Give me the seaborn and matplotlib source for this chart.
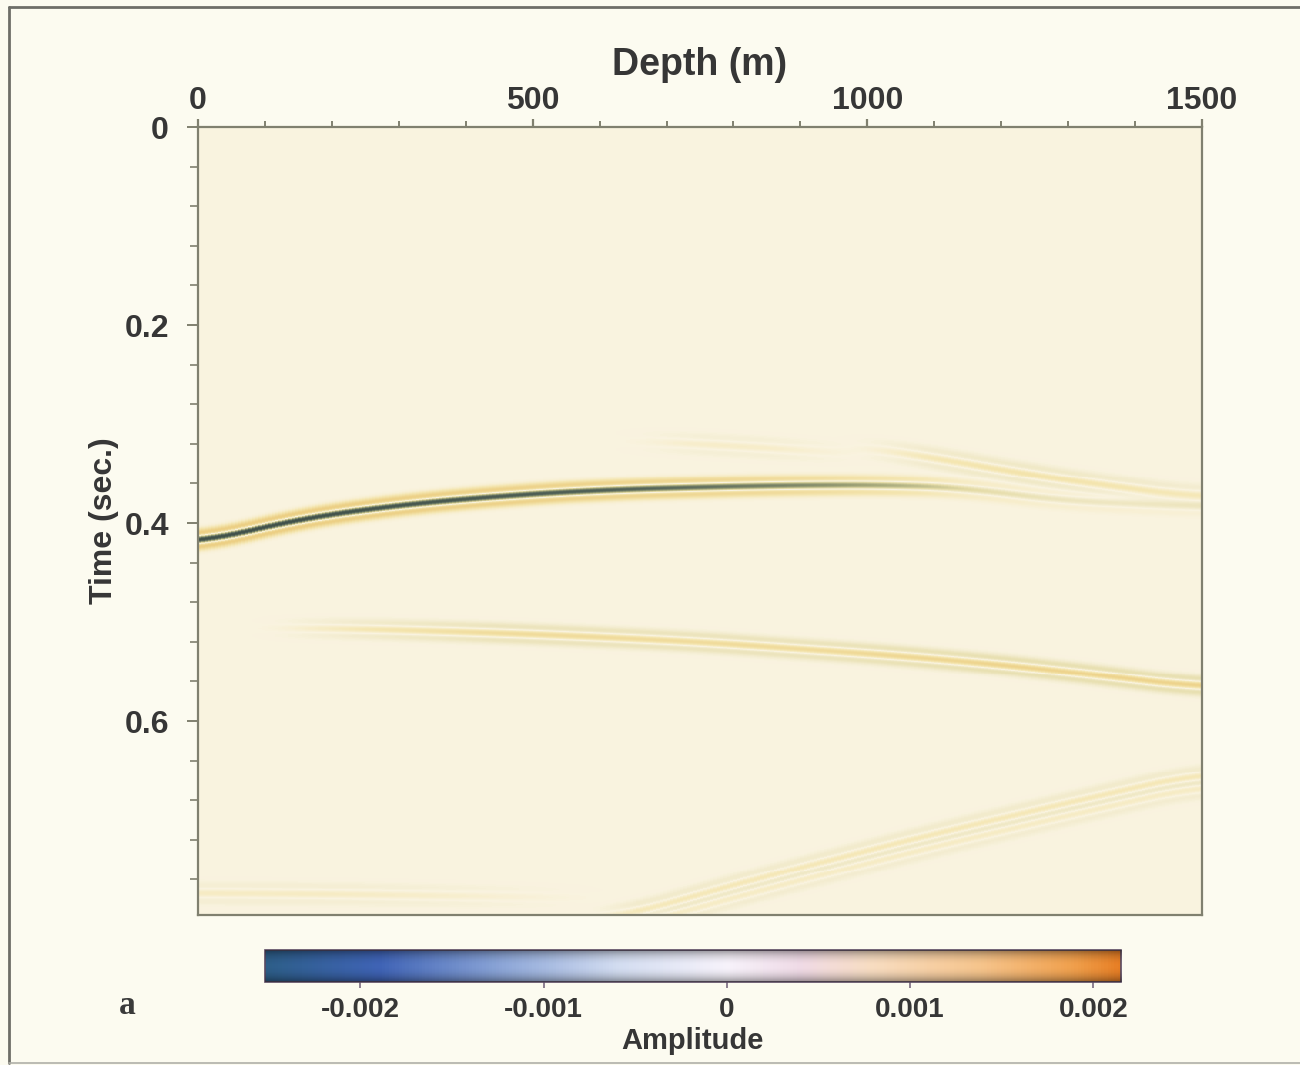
import numpy as np
import pandas as pd
import matplotlib
matplotlib.use("Agg")
import matplotlib.pyplot as plt
import seaborn as sns
from matplotlib.colors import LinearSegmentedColormap, Normalize
from matplotlib.cm import ScalarMappable
from matplotlib.lines import Line2D

# ---- axis ranges and ticks ----
depth_max = 1500.0
time_max = 0.796
depth_ticks = [0, 500, 1000, 1500]
time_ticks = [0.0, 0.2, 0.4, 0.6]
time_tick_labels = ["0", "0.2", "0.4", "0.6"]
amp_ticks = [-0.002, -0.001, 0.0, 0.001, 0.002]
amp_tick_labels = ["-0.002", "-0.001", "0", "0.001", "0.002"]
amp_min, amp_max = -0.00252, 0.00215

# ---- reflection events: picks along each event (depth m, time s, amplitude) ----
main_depth = [0, 150, 300, 450, 600, 750, 900, 1050, 1150, 1280, 1500]
main_time = [0.420, 0.396, 0.382, 0.373, 0.367, 0.364, 0.362, 0.362, 0.365, 0.377, 0.384]
main_amp = [-0.0023, -0.0023, -0.0022, -0.0021, -0.0020, -0.0018, -0.0015, -0.0010, -0.0005, -0.0003, -0.0002]

upper_depth = [980, 1100, 1250, 1400, 1500]
upper_time = [0.322, 0.334, 0.352, 0.366, 0.374]
upper_amp = [0.0, 0.0004, 0.0005, 0.0004, 0.0003]

shallow_depth = [640, 750, 850, 1000]
shallow_time = [0.317, 0.320, 0.324, 0.330]
shallow_amp = [0.0, 0.0002, 0.0002, 0.0]

second_depth = [100, 250, 450, 600, 750, 900, 1050, 1200, 1350, 1500]
second_time = [0.506, 0.507, 0.511, 0.515, 0.520, 0.527, 0.534, 0.543, 0.554, 0.566]
second_amp = [0.0, 0.0004, 0.0007, 0.0007, 0.0007, 0.0007, 0.0008, 0.0009, 0.0009, 0.0009]

diag_depth = [620, 850, 1083, 1300, 1500]
diag_time = [0.800, 0.757, 0.717, 0.683, 0.653]
diag_amp = [0.0004, 0.0004, 0.0004, 0.0004, 0.0004]

diag2_depth = [650, 850, 1083, 1300, 1500]
diag2_time = [0.806, 0.769, 0.729, 0.695, 0.665]
diag2_amp = [0.0003, 0.0003, 0.0003, 0.0003, 0.0003]

deep_depth = [0, 200, 400, 600]
deep_time = [0.774, 0.775, 0.777, 0.779]
deep_amp = [0.00025, 0.00025, 0.00015, 0.0]

events = [
    (main_depth, main_time, main_amp, 55.0),
    (upper_depth, upper_time, upper_amp, 50.0),
    (shallow_depth, shallow_time, shallow_amp, 50.0),
    (second_depth, second_time, second_amp, 55.0),
    (diag_depth, diag_time, diag_amp, 50.0),
    (diag2_depth, diag2_time, diag2_amp, 50.0),
    (deep_depth, deep_time, deep_amp, 50.0),
]

# ---- build the depth/time amplitude section ----
dx, dt = 5.0, 0.001
depth = np.arange(0, depth_max, dx) + dx / 2
time = np.arange(0, time_max - 1e-9, dt) + dt / 2


def ricker(tau, f):
    a = (np.pi * f * tau) ** 2
    return (1 - 2 * a) * np.exp(-a)


def smooth(y, n=31):
    pad = n // 2
    yp = np.pad(y, pad, mode="edge")
    return np.convolve(yp, np.ones(n) / n, mode="valid")


section = np.zeros((time.size, depth.size))
for d, t, a, f in events:
    tc = smooth(np.interp(depth, d, t))
    amp = smooth(np.interp(depth, d, a, left=0.0, right=0.0), 15)
    section += amp[None, :] * ricker(time[:, None] - tc[None, :], f)

df = pd.DataFrame(section, index=np.round(time, 4), columns=depth)

# ---- colour maps ----
rng = amp_max - amp_min


def stops(pairs):
    return [((v - amp_min) / rng, c) for v, c in pairs]


section_cmap = LinearSegmentedColormap.from_list("section", stops([
    (amp_min, "#34443f"),
    (-0.0019, "#56665a"),
    (-0.0012, "#9ea276"),
    (-0.0005, "#e4dba6"),
    (0.0, "#f9f3e0"),
    (0.0004, "#f4e6b2"),
    (0.0010, "#ecd086"),
    (0.0016, "#e4bb5e"),
    (amp_max, "#dca848"),
]))

bar_cmap = LinearSegmentedColormap.from_list("amplitude", stops([
    (amp_min, "#2d5e88"),
    (-0.0019, "#3f63b5"),
    (-0.0012, "#8fa8d8"),
    (-0.0006, "#d2dcf0"),
    (0.0, "#f6f2fa"),
    (0.0004, "#efdae6"),
    (0.0008, "#f7dcc0"),
    (0.0014, "#f5c38a"),
    (0.0019, "#ef9f4c"),
    (amp_max, "#e67e24"),
]))

# ---- figure ----
sns.set_style("white")
plt.rcParams["font.family"] = ["Liberation Sans", "DejaVu Sans"]
plt.rcParams["axes.unicode_minus"] = False

text_col = "#363636"
axis_col = "#80806f"
fig = plt.figure(figsize=(13, 10.65), dpi=100, facecolor="#fcfbf0")
ax = fig.add_axes([0.1523, 0.1408, 0.7723, 0.7399])

sns.heatmap(df, ax=ax, cmap=section_cmap, vmin=amp_min, vmax=amp_max,
            cbar=False, xticklabels=False, yticklabels=False)

for s in ax.spines.values():
    s.set_visible(True)
    s.set_color(axis_col)
    s.set_linewidth(1.6)

ax.set_xticks(np.array(depth_ticks) / dx)
ax.set_xticklabels([str(v) for v in depth_ticks])
ax.set_xticks(np.arange(0, depth_max + 1, 100) / dx, minor=True)
ax.set_yticks(np.array(time_ticks) / dt)
ax.set_yticklabels(time_tick_labels, rotation=0)
ax.set_yticks(np.arange(0, time_max, 0.04) / dt, minor=True)

ax.tick_params(axis="x", which="both", direction="out", top=True, bottom=False,
               labeltop=True, labelbottom=False, colors=axis_col,
               labelcolor=text_col, labelsize=23)
ax.tick_params(axis="x", which="major", length=6, width=1.6, pad=2)
ax.tick_params(axis="x", which="minor", length=4.5, width=1.4)
ax.tick_params(axis="y", which="both", direction="out", left=True, right=False,
               colors=axis_col, labelcolor=text_col, labelsize=23)
ax.tick_params(axis="y", which="major", length=8, width=1.4, pad=13)
ax.tick_params(axis="y", which="minor", length=6, width=1.2)
for lab in ax.get_xticklabels() + ax.get_yticklabels():
    lab.set_fontweight("bold")

ax.xaxis.set_label_position("top")
ax.set_xlabel("Depth (m)", fontsize=27, fontweight="bold", color=text_col, labelpad=8)
ax.set_ylabel("Time (sec.)", fontsize=23, fontweight="bold", color=text_col, labelpad=4)

# ---- colour bar ----
cax = fig.add_axes([0.2038, 0.0779, 0.6585, 0.0300])
norm = Normalize(vmin=amp_min, vmax=amp_max)
cb = fig.colorbar(ScalarMappable(norm=norm, cmap=bar_cmap), cax=cax,
                  orientation="horizontal")
shade = np.zeros((64, 1, 4))
yy = np.linspace(-1, 1, 64)
shade[:, 0, 3] = 0.38 * np.abs(yy) ** 2.2
cax.imshow(shade, extent=(amp_min, amp_max, 0, 1), aspect="auto", zorder=3,
           interpolation="bilinear")
cax.set_xlim(amp_min, amp_max)
cax.set_ylim(0, 1)
cb.set_ticks(amp_ticks)
cb.set_ticklabels(amp_tick_labels)
cb.outline.set_edgecolor("#5a4a62")
cb.outline.set_linewidth(1.2)
cax.tick_params(axis="x", length=4, width=1.2, colors="#7a6a80",
                labelcolor=text_col, labelsize=20, pad=7)
for lab in cax.get_xticklabels():
    lab.set_fontweight("bold")
cb.set_label("Amplitude", fontsize=21, fontweight="bold", color=text_col, labelpad=3)

fig.text(127 / 1300, 1 - 1005 / 1065, "a", fontsize=24, fontweight="bold",
         family=["Liberation Serif", "DejaVu Serif"], color="#3a3a3a",
         ha="center", va="center")

# ---- outer frame ----
frame_col = "#6e6e68"
x0, x1 = 9 / 1300, 1.0
y0, y1 = 1 - 1063 / 1065, 1 - 7 / 1065
fig.add_artist(Line2D([x0, x0], [y0, y1], transform=fig.transFigure,
                      color=frame_col, lw=2.0))
fig.add_artist(Line2D([x0, x1], [y1, y1], transform=fig.transFigure,
                      color=frame_col, lw=2.0))
fig.add_artist(Line2D([x0, x1], [y0, y0], transform=fig.transFigure,
                      color="#b0b0a8", lw=1.2))

fig.savefig("out.png", dpi=100, facecolor=fig.get_facecolor())
